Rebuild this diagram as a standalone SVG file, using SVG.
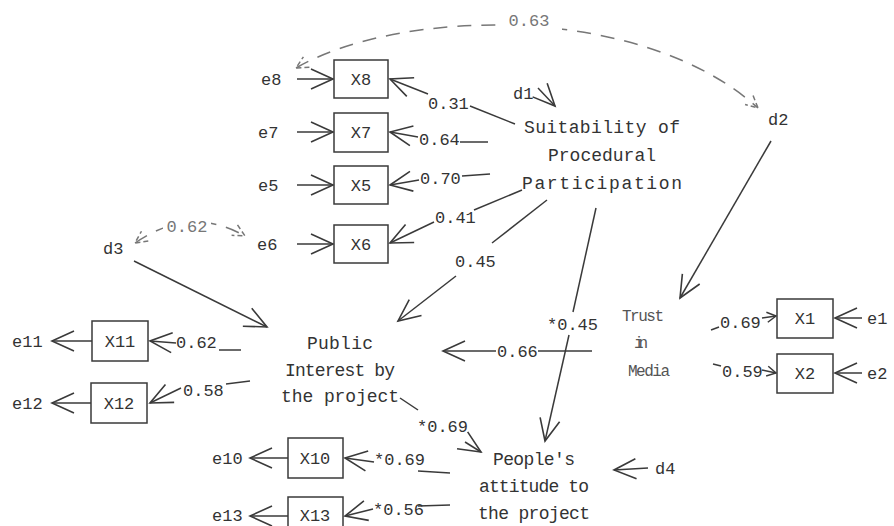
<svg xmlns="http://www.w3.org/2000/svg" width="894" height="526" viewBox="0 0 894 526">
<defs>
<style>
text{font-family:"Liberation Mono","DejaVu Sans Mono",monospace;fill:#333;font-size:17px}
.c{text-anchor:middle}
.big{font-size:18px}
.lt{fill:#555;font-size:16px}
.box{fill:#fff;stroke:#3a3a3a;stroke-width:1.5}
.ln{fill:none;stroke:#3a3a3a;stroke-width:1.5}
.ar{fill:none;stroke:#3a3a3a;stroke-width:1.5;marker-end:url(#ah)}
.as{fill:none;stroke:#3a3a3a;stroke-width:1.5;marker-end:url(#sm)}
.dsh{fill:none;stroke:#777;stroke-width:1.5;stroke-dasharray:14 10;marker-start:url(#dh);marker-end:url(#dh)}
.dl{fill:#777}
</style>
<marker id="ah" viewBox="-24 -12 26 24" refX="0" refY="0" markerWidth="26" markerHeight="24" markerUnits="userSpaceOnUse" orient="auto" overflow="visible">
<path d="M-22,-10 L0,0 L-22,10" fill="none" stroke="#3a3a3a" stroke-width="1.6"/>
</marker>
<marker id="sm" viewBox="-12 -6 14 12" refX="0" refY="0" markerWidth="14" markerHeight="12" markerUnits="userSpaceOnUse" orient="auto" overflow="visible">
<path d="M-9,-5 L0,0 L-9,5" fill="none" stroke="#3a3a3a" stroke-width="1.5"/>
</marker>
<marker id="dh" viewBox="-14 -8 16 16" refX="0" refY="0" markerWidth="16" markerHeight="16" markerUnits="userSpaceOnUse" orient="auto-start-reverse" overflow="visible">
<path d="M-12,-6 L0,0 L-12,6" fill="none" stroke="#777" stroke-width="1.5" stroke-dasharray="5 3"/>
</marker>
</defs>
<rect width="894" height="526" fill="#fff"/>

<g id="connectors">
<path class="dsh" d="M296,68 C400,8 640,2 758,108"/>
<rect x="496" y="8" width="66" height="22" fill="#fff"/>
<text class="dl" x="529" y="26" text-anchor="middle">0.63</text>
<path class="dsh" d="M135,243 Q190,205 245,236"/>
<rect x="163" y="213" width="48" height="22" fill="#fff"/>
<text class="dl" x="187" y="232" text-anchor="middle">0.62</text>

<line class="ar" x1="297" y1="79" x2="333" y2="79"/>
<line class="ar" x1="297" y1="132" x2="333" y2="132"/>
<line class="ar" x1="297" y1="185" x2="333" y2="185"/>
<line class="ar" x1="297" y1="244" x2="333" y2="244"/>

<line class="ln" x1="515" y1="124" x2="470" y2="106"/>
<line class="ar" x1="428" y1="94" x2="390" y2="79"/>
<text x="428" y="109">0.31</text>
<line class="ln" x1="488" y1="142" x2="460" y2="142"/>
<line class="ar" x1="418" y1="137" x2="390" y2="132"/>
<text x="419" y="145">0.64</text>
<line class="ln" x1="490" y1="174" x2="462" y2="176"/>
<line class="ar" x1="419" y1="180" x2="390" y2="185"/>
<text x="420" y="184">0.70</text>
<line class="ln" x1="522" y1="190" x2="474" y2="210"/>
<line class="ar" x1="434" y1="222" x2="390" y2="243"/>
<text x="435" y="223">0.41</text>

<line class="ar" x1="538" y1="88" x2="555" y2="106"/>

<line class="ln" x1="547" y1="200" x2="492" y2="243"/>
<line class="ar" x1="456" y1="276" x2="398" y2="321"/>
<text x="455" y="267">0.45</text>

<line class="ln" x1="596" y1="208" x2="573" y2="312"/>
<line class="ar" x1="569" y1="335" x2="545" y2="441"/>
<text x="547" y="330">*0.45</text>

<line class="ar" x1="134" y1="261" x2="267" y2="327"/>

<line class="ln" x1="241" y1="350" x2="219" y2="350"/>
<line class="ar" x1="176" y1="343" x2="150" y2="341"/>
<text x="176" y="348">0.62</text>
<line class="ln" x1="250" y1="381" x2="226" y2="384"/>
<line class="ar" x1="181" y1="388" x2="150" y2="403"/>
<text x="183" y="396">0.58</text>
<line class="ar" x1="92" y1="341" x2="52" y2="341"/>
<line class="ar" x1="91" y1="403" x2="52" y2="403"/>

<line class="ln" x1="400" y1="398" x2="418" y2="410"/>
<text x="417" y="432">*0.69</text>
<line class="ar" x1="465" y1="442" x2="481" y2="452"/>

<line class="ln" x1="450" y1="473" x2="418" y2="471"/>
<line class="ar" x1="374" y1="462" x2="345" y2="458"/>
<text x="374" y="465">*0.69</text>
<line class="ln" x1="450" y1="505" x2="418" y2="506"/>
<line class="ar" x1="373" y1="509" x2="345" y2="516"/>
<text x="373" y="515">*0.56</text>
<line class="ar" x1="288" y1="458" x2="250" y2="458"/>
<line class="ar" x1="288" y1="516" x2="250" y2="516"/>

<line class="ar" x1="648" y1="468" x2="614" y2="470"/>

<line class="ln" x1="592" y1="351" x2="538" y2="351"/>
<line class="ar" x1="496" y1="351" x2="443" y2="351"/>
<text x="497" y="357">0.66</text>

<line class="ar" x1="771" y1="141" x2="680" y2="298"/>

<line class="ln" x1="711" y1="330" x2="719" y2="327"/>
<text x="720" y="328">0.69</text>
<line class="as" x1="762" y1="318" x2="776" y2="316"/>
<line class="ln" x1="713" y1="364" x2="721" y2="366"/>
<text x="722" y="377">0.59</text>
<line class="as" x1="762" y1="370" x2="776" y2="373"/>
<line class="ar" x1="862" y1="318" x2="835" y2="318"/>
<line class="ar" x1="862" y1="373" x2="835" y2="373"/>
</g>

<g id="X8"><rect class="box" x="334" y="60" width="54" height="38"/><text class="c" x="361" y="85">X8</text></g>
<g id="X7"><rect class="box" x="334" y="113" width="54" height="39"/><text class="c" x="361" y="138">X7</text></g>
<g id="X5"><rect class="box" x="334" y="166" width="54" height="38"/><text class="c" x="361" y="191">X5</text></g>
<g id="X6"><rect class="box" x="334" y="225" width="54" height="38"/><text class="c" x="361" y="250">X6</text></g>
<g id="X11"><rect class="box" x="92" y="321" width="56" height="40"/><text class="c" x="120" y="347">X11</text></g>
<g id="X12"><rect class="box" x="91" y="383" width="56" height="40"/><text class="c" x="119" y="409">X12</text></g>
<g id="X10"><rect class="box" x="288" y="438" width="55" height="40"/><text class="c" x="315" y="464">X10</text></g>
<g id="X13"><rect class="box" x="288" y="497" width="55" height="40"/><text class="c" x="315" y="521">X13</text></g>
<g id="X1"><rect class="box" x="777" y="299" width="56" height="39"/><text class="c" x="805" y="324">X1</text></g>
<g id="X2"><rect class="box" x="777" y="354" width="56" height="39"/><text class="c" x="805" y="379">X2</text></g>

<g id="e8"><text x="261" y="85">e8</text></g>
<g id="e7"><text x="258" y="138">e7</text></g>
<g id="e5"><text x="258" y="191">e5</text></g>
<g id="e6"><text x="257" y="250">e6</text></g>
<g id="e11"><text x="12" y="347">e11</text></g>
<g id="e12"><text x="12" y="409">e12</text></g>
<g id="e10"><text x="212" y="464">e10</text></g>
<g id="e13"><text x="212" y="521">e13</text></g>
<g id="e1"><text x="867" y="324">e1</text></g>
<g id="e2"><text x="867" y="379">e2</text></g>
<g id="d1"><text x="513" y="99">d1</text></g>
<g id="d2"><text x="768" y="125">d2</text></g>
<g id="d3"><text x="103" y="254">d3</text></g>
<g id="d4"><text x="655" y="474">d4</text></g>

<g id="suitability">
<text class="big" x="524" y="133" textLength="156">Suitability of</text>
<text class="big" x="548" y="161" textLength="108">Procedural</text>
<text class="big" x="522" y="189" textLength="160">Participation</text>
</g>
<g id="public">
<text class="big" x="307" y="349" textLength="66">Public</text>
<text class="big" x="285" y="376" textLength="110">Interest by</text>
<text class="big" x="281" y="402" textLength="118">the project</text>
</g>
<g id="trust">
<text class="lt" x="622" y="321" textLength="42">Trust</text>
<text class="lt" x="634" y="348" textLength="14">in</text>
<text class="lt" x="628" y="376" textLength="42">Media</text>
</g>
<g id="people">
<text class="big" x="493" y="465" textLength="82">People's</text>
<text class="big" x="479" y="492" textLength="110">attitude to</text>
<text class="big" x="478" y="519" textLength="112">the project</text>
</g>
</svg>
